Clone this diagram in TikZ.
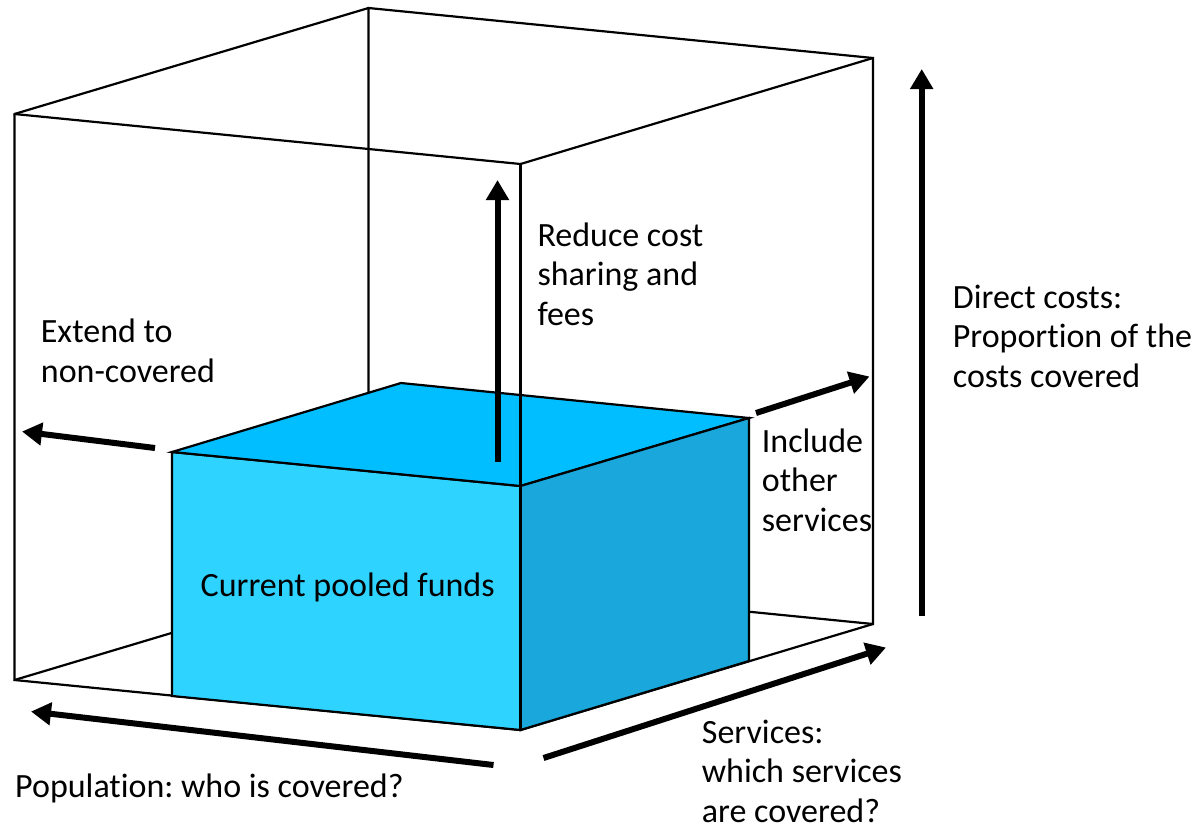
\documentclass[tikz,border=0pt]{standalone}
\usepackage{fontspec}
\setmainfont{Carlito}[Ligatures=NoCommon, Contextuals=NoAlternate]
\usetikzlibrary{arrows.meta}
\definecolor{frontblue}{RGB}{46,211,255}
\definecolor{topblue}{RGB}{0,190,255}
\definecolor{sideblue}{RGB}{26,168,220}
\frenchspacing
\begin{document}
\begin{tikzpicture}[x=1pt,y=-1pt,
  edge/.style={line width=2.2pt, line join=miter, line cap=round},
  face/.style={draw=black, line width=2.2pt, line join=miter},
  bigarrow/.style={line width=6pt, -{Triangle[length=20pt,width=22pt]}},
  lbl/.style={inner sep=0pt, anchor=base west, align=left,
              font=\fontsize{34}{39.3}\selectfont}]
\useasboundingbox (0,0) rectangle (1202,831);

% outer coverage box
\coordinate (FTL) at (14.5,114);
\coordinate (FTR) at (520.5,164);
\coordinate (FBR) at (520.5,730);
\coordinate (FBL) at (14.5,680);
\coordinate (BTL) at (368.5,8);
\coordinate (BTR) at (873,58);
\coordinate (BBR) at (873,624);
\coordinate (BBL) at (368.5,574);

% current pooled funds block
\coordinate (IFTL) at (172,452);
\coordinate (IFTR) at (520.5,486);
\coordinate (IFBR) at (520.5,730);
\coordinate (IFBL) at (172,696);
\coordinate (IBTL) at (401,383);
\coordinate (IBTR) at (749,418);
\coordinate (IBBR) at (749,661);

% hidden-side edges of the outer box
\draw[edge] (BTL) -- (BTR) -- (BBR) -- (BBL) -- cycle;
\draw[edge] (FTL) -- (BTL);
\draw[edge] (FTR) -- (BTR);
\draw[edge] (FBL) -- (BBL);
\draw[edge] (FBR) -- (BBR);
\draw[edge] (FTL) -- (FTR);
\draw[edge] (FTL) -- (FBL) -- (FBR);

% the block
\filldraw[face, fill=frontblue] (IFTL) -- (IFTR) -- (IFBR) -- (IFBL) -- cycle;
\filldraw[face, fill=topblue] (IFTL) -- (IBTL) -- (IBTR) -- (IFTR) -- cycle;
\filldraw[face, fill=sideblue] (IFTR) -- (IBTR) -- (IBBR) -- (IFBR) -- cycle;
\node[lbl] (pooled) at (200.5,596) {Current pooled funds};

% front right edge of the outer box, passing over the block
\draw[edge] (FTR) -- (FBR);

% arrows
\coordinate (costS) at (497.5,462);
\coordinate (costE) at (497.5,180);
\draw[bigarrow] (costS) -- (costE);

\coordinate (extS) at (155,448);
\coordinate (extE) at (22,431.5);
\draw[bigarrow] (extS) -- (extE);

\coordinate (inclS) at (756,413);
\coordinate (inclE) at (869.5,376.5);
\draw[bigarrow] (inclS) -- (inclE);

\coordinate (dirS) at (921.7,616);
\coordinate (dirE) at (921.7,69);
\draw[bigarrow] (dirS) -- (dirE);

\coordinate (popS) at (493.5,765);
\coordinate (popE) at (31,711.5);
\draw[bigarrow] (popS) -- (popE);

\coordinate (servS) at (543.5,758);
\coordinate (servE) at (886,647.5);
\draw[bigarrow] (servS) -- (servE);

% labels (anchored on the baseline of their last line)
\node[lbl] (reduce) at (537.3,325) {Reduce cost\\sharing and\\fees};
\node[lbl] (extend) at (40.7,382) {Extend to\\non-covered};
\node[lbl] (direct) at (952.7,387) {Direct costs:\\Proportion of the\\costs covered};
\node[lbl] (include) at (761.7,531) {Include\\other\\services};
\node[lbl] (population) at (15,797) {Population: who is covered?};
\node[lbl] (services) at (701.7,822) {Services:\\which services\\are covered?};
\end{tikzpicture}
\end{document}
